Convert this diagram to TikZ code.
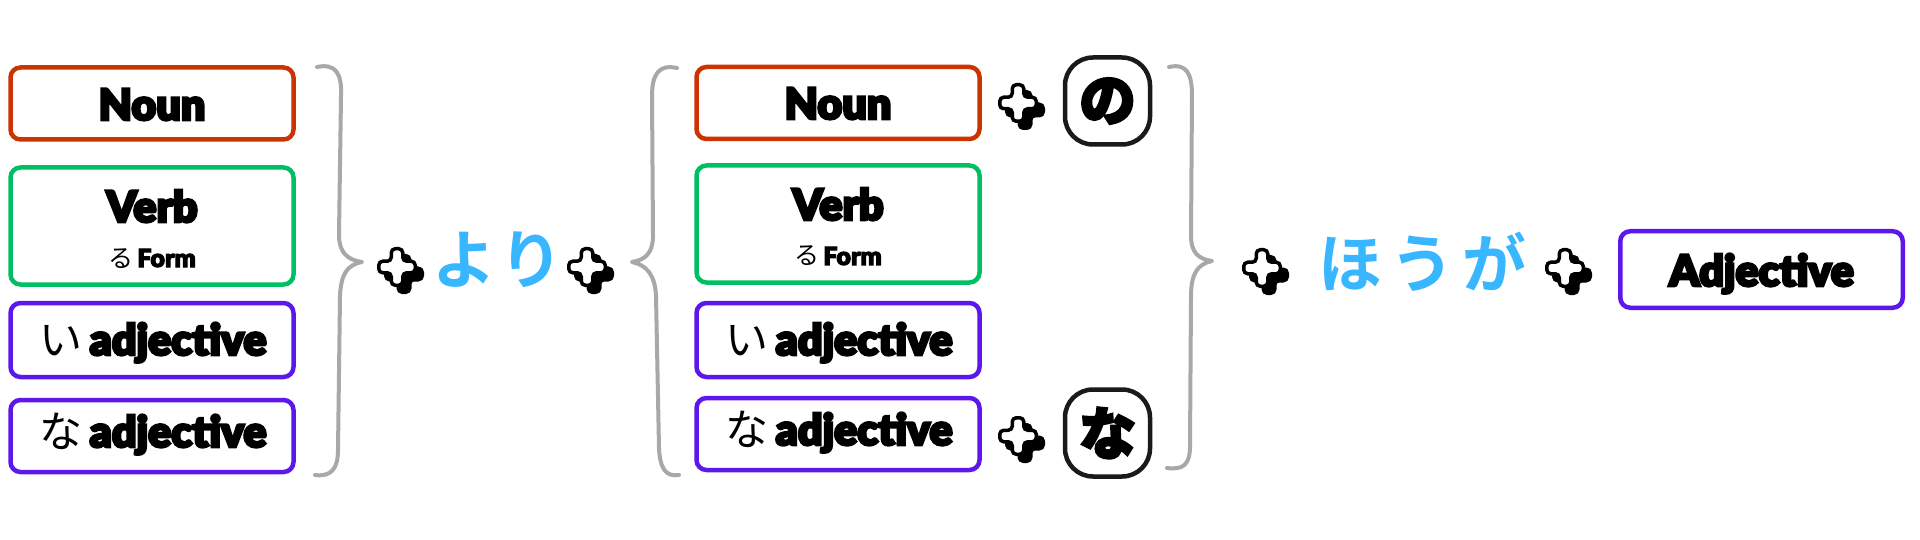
\documentclass[tikz,border=0pt]{standalone}
\usepackage{fontspec}
\newfontfamily\lab{Lato Black}[FakeBold=6]
\newfontfamily\labs{Lato Black}[FakeBold=4]
\newfontfamily\jp{Noto Sans CJK JP}
\newfontfamily\jpheavy{Noto Sans CJK JP Bold}[FakeBold=7]
\newfontfamily\jpblue{Noto Sans CJK JP Bold}
\definecolor{cred}{RGB}{204,51,0}
\definecolor{cgreen}{RGB}{0,191,99}
\definecolor{cpurple}{RGB}{94,23,235}
\definecolor{cblue}{RGB}{56,182,255}
\definecolor{cgray}{RGB}{168,168,168}
\definecolor{cdark}{RGB}{26,26,26}
\begin{document}
\begin{tikzpicture}[x=1pt,y=-1pt,
  box/.style={draw=#1, line width=4.5pt, rounded corners=10pt, fill=white,
    minimum width=283pt, inner sep=0pt},
  pbox/.style={draw=cdark, line width=4.5pt, rounded corners=28pt, fill=white,
    minimum width=85pt, minimum height=87pt, inner sep=0pt},
  lbl/.style={inner sep=0pt, font=\lab\fontsize{43}{50}\selectfont},
  sml/.style={inner sep=0pt, font=\labs\fontsize{25}{30}\selectfont},
  jpbig/.style={inner sep=0pt, text=cblue, font=\jpblue\fontsize{64}{70}\selectfont},
  jpbox/.style={inner sep=0pt, font=\jpheavy\fontsize{56}{64}\selectfont},
  brace/.style={draw=cgray, line width=4pt, line cap=round, line join=round},
  plussign/.pic={
    \filldraw[fill=black, draw=black, line width=3.5pt, rounded corners=4pt, shift={(7,7)}]
      (-5.75,-18.25) -- (5.75,-18.25) -- (5.75,-5.75) -- (18.25,-5.75) -- (18.25,5.75)
      -- (5.75,5.75) -- (5.75,18.25) -- (-5.75,18.25) -- (-5.75,5.75) -- (-18.25,5.75)
      -- (-18.25,-5.75) -- (-5.75,-5.75) -- cycle;
    \filldraw[fill=white, draw=black, line width=3.5pt, rounded corners=4pt]
      (-5.75,-18.25) -- (5.75,-18.25) -- (5.75,-5.75) -- (18.25,-5.75) -- (18.25,5.75)
      -- (5.75,5.75) -- (5.75,18.25) -- (-5.75,18.25) -- (-5.75,5.75) -- (-18.25,5.75)
      -- (-18.25,-5.75) -- (-5.75,-5.75) -- cycle;
  }]
\useasboundingbox (0,0) rectangle (1920,540);
\fill[white] (0,0) rectangle (1920,540);

% ---------- left column ----------
\node[box=cred, minimum height=72pt] (nounL) at (152,103.5) {};
\node[lbl, anchor=base] (nounLt) at (152,120) {Noun};
\node[box=cgreen, minimum height=117pt] (verbL) at (152,226) {};
\node[lbl, anchor=base] (verbLt) at (152,222) {Verb};
\node[sml, anchor=base] (formLt) at (152,267) {{\jp\fontsize{25}{30}\selectfont る}\,Form};
\node[box=cpurple, minimum height=74pt] (iadjL) at (152,340) {};
\node[lbl, anchor=base] (iadjLt) at (153,355) {{\jp い}\,adjective};
\node[box=cpurple, minimum height=72pt] (naadjL) at (152,436) {};
\node[lbl, anchor=base] (naadjLt) at (153,447) {{\jp な}\,adjective};

% left closing brace
\draw[brace] (317,67) .. controls (336,63) and (342,74) .. (341,96)
  -- (339,235) .. controls (339,252) and (347,260) .. (362,262)
  .. controls (347,265) and (341,274) .. (340,296)
  -- (338,450) .. controls (338,469) and (331,477) .. (315,475);

\pic (p1) at (397,267) {plussign};
\node[jpbig] (yori) at (498,260) {よ\hspace{4pt}り};
\pic (p2) at (587,267) {plussign};

% middle opening brace
\draw[brace] (677,68) .. controls (659,64) and (652,74) .. (652,96)
  -- (653,236) .. controls (653,252) and (646,260) .. (632,262)
  .. controls (646,265) and (655,274) .. (656,296)
  -- (659,448) .. controls (660,469) and (666,477) .. (679,475);

% ---------- middle column ----------
\node[box=cred, minimum height=72pt] (nounM) at (838,103) {};
\node[lbl, anchor=base] (nounMt) at (838,119) {Noun};
\node[box=cgreen, minimum height=117pt] (verbM) at (838,224) {};
\node[lbl, anchor=base] (verbMt) at (838,220) {Verb};
\node[sml, anchor=base] (formMt) at (838,265) {{\jp\fontsize{25}{30}\selectfont る}\,Form};
\node[box=cpurple, minimum height=74pt] (iadjM) at (838,340) {};
\node[lbl, anchor=base] (iadjMt) at (839,355) {{\jp い}\,adjective};
\node[box=cpurple, minimum height=72pt] (naadjM) at (838,434) {};
\node[lbl, anchor=base] (naadjMt) at (839,445) {{\jp な}\,adjective};

\pic (p3) at (1018,103) {plussign};
\node[pbox] (nobox) at (1107.5,101) {};
\node[jpbox] (no) at (nobox.center) {の};
\pic (p4) at (1018,436) {plussign};
\node[pbox] (nabox) at (1107.5,433) {};
\node[jpbox] (na) at (nabox.center) {な};

% right closing brace
\draw[brace] (1169,67) .. controls (1187,63) and (1192,74) .. (1192,96)
  -- (1191,236) .. controls (1191,252) and (1198,259) .. (1212,261)
  .. controls (1198,264) and (1191,273) .. (1191,296)
  -- (1190,446) .. controls (1190,465) and (1183,470) .. (1167,468);

\pic (p5) at (1262,268) {plussign};
\node[jpbig] (houga) at (1422,262) {ほ\hspace{8pt}う\hspace{8pt}が};
\pic (p6) at (1565,268) {plussign};

\node[box=cpurple, minimum width=282.5pt, minimum height=76.5pt] (adj) at (1761.5,269.5) {};
\node[lbl, anchor=base] (adjt) at (1761.5,286) {Adjective};
\end{tikzpicture}
\end{document}
